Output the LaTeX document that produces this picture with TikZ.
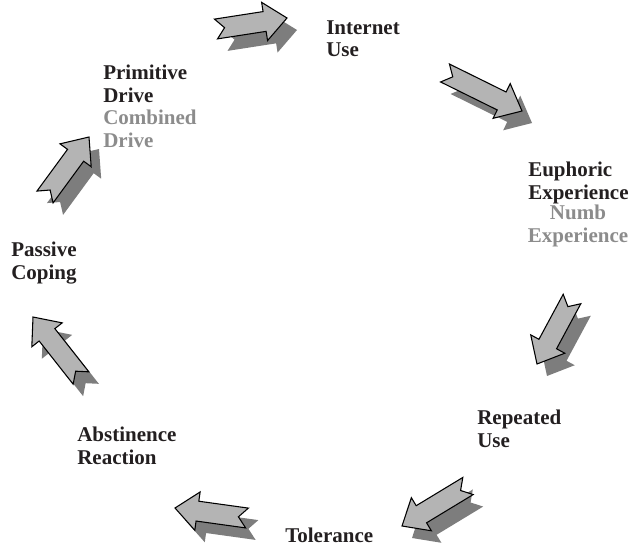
\documentclass[tikz,border=0pt]{standalone}
\usepackage{fontspec}
\setmainfont{Liberation Serif}
\usetikzlibrary{calc}

\definecolor{arrowfill}{RGB}{180,180,180}
\definecolor{arrowshade}{RGB}{125,125,125}
\definecolor{labelblack}{RGB}{35,31,32}
\definecolor{labelgray}{RGB}{140,140,140}

% block arrow with notched tail, from tail #1 to tip #2
\newcommand{\cyclearrow}[2]{%
  \coordinate (hb) at ($(#2)!17pt!(#1)$);
  \coordinate (nt) at ($(#1)!6.5pt!(#2)$);
  \begin{scope}[transform canvas={shift={(7.5pt,-9pt)}}]
    \fill[shade] ($(#1)!7.5pt!90:(#2)$) -- ($(hb)!7.5pt!90:(#2)$) -- ($(hb)!14.5pt!90:(#2)$) -- (#2)
      -- ($(hb)!14.5pt!-90:(#2)$) -- ($(hb)!7.5pt!-90:(#2)$) -- ($(#1)!7.5pt!-90:(#2)$) -- (nt) -- cycle;
  \end{scope}
  \draw[body] ($(#1)!7.5pt!90:(#2)$) -- ($(hb)!7.5pt!90:(#2)$) -- ($(hb)!14.5pt!90:(#2)$) -- (#2)
    -- ($(hb)!14.5pt!-90:(#2)$) -- ($(hb)!7.5pt!-90:(#2)$) -- ($(#1)!7.5pt!-90:(#2)$) -- (nt) -- cycle;
}

\begin{document}
\begin{tikzpicture}%
	[x=0.75pt, y=-0.75pt,
	body/.style={fill=arrowfill, draw=black, line width=0.8pt, line join=miter},
	shade/.style={fill=arrowshade},
	stage/.style={anchor=north west, inner sep=0pt, align=left, text=labelblack,
		font=\fontsize{15.75}{16.9}\selectfont\bfseries},
	altstage/.style={stage, anchor=north, align=center, text=labelgray}]
\useasboundingbox (0,0) rectangle (632,546);
%
%% Tails and tips of the arrows
%%
\coordinate (t1) at (216,29);  \coordinate (p1) at (287,18);
\coordinate (t2) at (445,73);  \coordinate (p2) at (522,111);
\coordinate (t3) at (572,299); \coordinate (p3) at (537,364);
\coordinate (t4) at (468,486); \coordinate (p4) at (402,526);
\coordinate (t5) at (247,518); \coordinate (p5) at (175,508);
\coordinate (t6) at (81,378);  \coordinate (p6) at (33,317);
\coordinate (t7) at (45,197);  \coordinate (p7) at (89,137);
%%
%% Drawing the arrows
%%
\foreach \i in {1,...,7} {\cyclearrow{t\i}{p\i}}
%%
%% Drawing the stages
%%
\node[stage] (internet) at (326,20) {Internet\\Use};
\node[stage] (euphoric) at (528,162) {Euphoric\\Experience};
\node[altstage] (numb) at (578,205) {Numb\\Experience};
\node[stage] (repeated) at (477,410) {Repeated\\Use};
\node[stage] (tolerance) at (285,528) {Tolerance};
\node[stage] (abstinence) at (77,427) {Abstinence\\Reaction};
\node[stage] (passive) at (11,242) {Passive\\Coping};
\node[stage] (primitive) at (103,65) {Primitive\\Drive\\\textcolor{labelgray}{Combined}\\\textcolor{labelgray}{Drive}};
%%
\end{tikzpicture}
\end{document}
